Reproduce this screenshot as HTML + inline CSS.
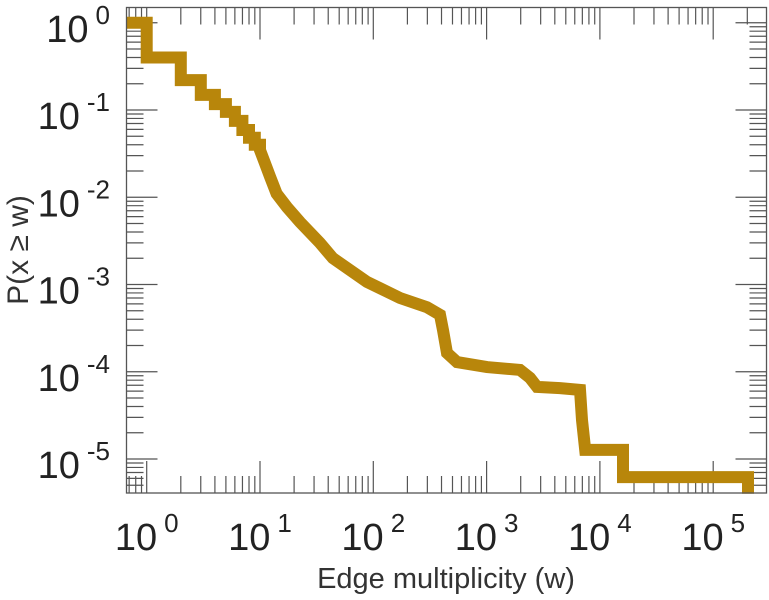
<!DOCTYPE html>
<html><head><meta charset="utf-8"><style>
html,body{margin:0;padding:0;background:#fff;}
svg{display:block;font-family:"Liberation Sans",sans-serif;}
</style></head><body>
<svg id="chart" width="769" height="600" viewBox="0 0 769 600" xmlns="http://www.w3.org/2000/svg">
<g id="grid"></g>
<g id="series"></g>
<rect x="126.5" y="7.5" width="640" height="485.5" fill="none" stroke="#555" stroke-width="1.3"/>
<g id="labels"></g>
<text x="446" y="588" font-size="29" fill="#333" text-anchor="middle">Edge multiplicity (w)</text>
<text transform="translate(28,250) rotate(-90)" font-size="30" fill="#333" text-anchor="middle" xml:space="preserve">P(x ≥ w)</text>
</svg>
<script>
const xTickExps = [0, 1, 2, 3, 4, 5];
const yTickExps = [0, -1, -2, -3, -4, -5];
const wValues = [0.66, 1, 1, 2, 2, 3, 3, 4, 4, 5, 5, 6, 6, 7, 7, 8, 8, 9, 9, 10, 10, 11, 12.3, 14, 17.3, 22.5, 33.8, 44, 88, 172, 298, 388, 412, 447, 548, 1009, 1972, 2416, 2786, 4446, 6670, 6950, 7410, 7410, 16000, 16000, 202800, 202800];
const pValues = [1, 1, 0.40, 0.40, 0.22, 0.22, 0.149, 0.149, 0.117, 0.117, 0.095, 0.095, 0.075, 0.075, 0.059, 0.059, 0.048, 0.048, 0.04, 0.04, 0.0346, 0.025, 0.017, 0.011, 0.0077, 0.0052, 0.0030, 0.0020, 0.00107, 0.0007, 0.00055, 0.00045, 0.0003, 0.000164, 0.000129, 0.000113, 0.000105, 0.000085, 0.000067, 0.000065, 0.000062, 0.000028, 0.0000127, 0.0000127, 0.0000127, 0.0000062, 0.0000062, 0.0000040];

const L = 126.5, R = 766.5, T = 7.5, B = 493;
const X0 = 146.7, XD = 113.3, Y0 = 22.75, YD = 87.25;
function xs(w) { return X0 + Math.log10(w) * XD; }
function ys(p) { return Y0 - Math.log10(p) * YD; }
const NS = "http://www.w3.org/2000/svg";
const grid = document.getElementById('grid');
const labels = document.getElementById('labels');
function line(x1, y1, x2, y2, name) {
  const l = document.createElementNS(NS, 'line');
  l.setAttribute('x1', x1); l.setAttribute('y1', y1);
  l.setAttribute('x2', x2); l.setAttribute('y2', y2);
  l.setAttribute('stroke', '#555'); l.setAttribute('stroke-width', '1.2');
  
  
  grid.appendChild(l);
}
for (let e = -1; e <= 6; e++) {
  for (let m = 1; m <= 9; m++) {
    const x = xs(m * Math.pow(10, e));
    if (x < L + 0.5 || x > R - 0.5) continue;
    const len = m === 1 ? 32 : 17;
    line(x, B, x, B - len, 'x-tick');
    line(x, T, x, T + len, 'x-tick-top');
  }
}
for (let e = -7; e <= 1; e++) {
  for (let m = 1; m <= 9; m++) {
    const y = ys(m * Math.pow(10, e));
    if (y < T + 0.5 || y > B - 0.5) continue;
    const len = m === 1 ? 31 : 17;
    line(L, y, L + len, y, 'y-tick');
    line(R, y, R - len, y, 'y-tick-right');
  }
}
function powLabel(x, y, exp, anchorRight, name) {
  const t = document.createElementNS(NS, 'text');
  t.setAttribute('font-size', '38');
  t.setAttribute('fill', '#222');
  
  
  const a = document.createElementNS(NS, 'tspan');
  a.textContent = '10';
  const b = document.createElementNS(NS, 'tspan');
  b.setAttribute('font-size', '26');
  b.setAttribute('dy', '-18');
  b.setAttribute('dx', '7');
  b.textContent = String(exp);
  t.appendChild(a); t.appendChild(b);
  labels.appendChild(t);
  const w = t.getBBox().width;
  t.setAttribute('x', anchorRight ? x - w : x - w / 2);
  t.setAttribute('y', y);
}
xTickExps.forEach(function (e) { powLabel(xs(Math.pow(10, e)), 550, e, false, 'x-tick-label'); });
yTickExps.forEach(function (e) { powLabel(110, ys(Math.pow(10, e)) + 19, e, true, 'y-tick-label'); });
const pts = wValues.map(function (w, i) { return xs(w).toFixed(1) + ',' + ys(pValues[i]).toFixed(1); }).join(' ');
const pl = document.createElementNS(NS, 'polyline');
pl.setAttribute('points', pts);
pl.setAttribute('fill', 'none');
pl.setAttribute('stroke', '#b8860b');
pl.setAttribute('stroke-width', '12');
pl.setAttribute('stroke-linejoin', 'miter');


document.getElementById('series').appendChild(pl);
</script>
</body></html>
